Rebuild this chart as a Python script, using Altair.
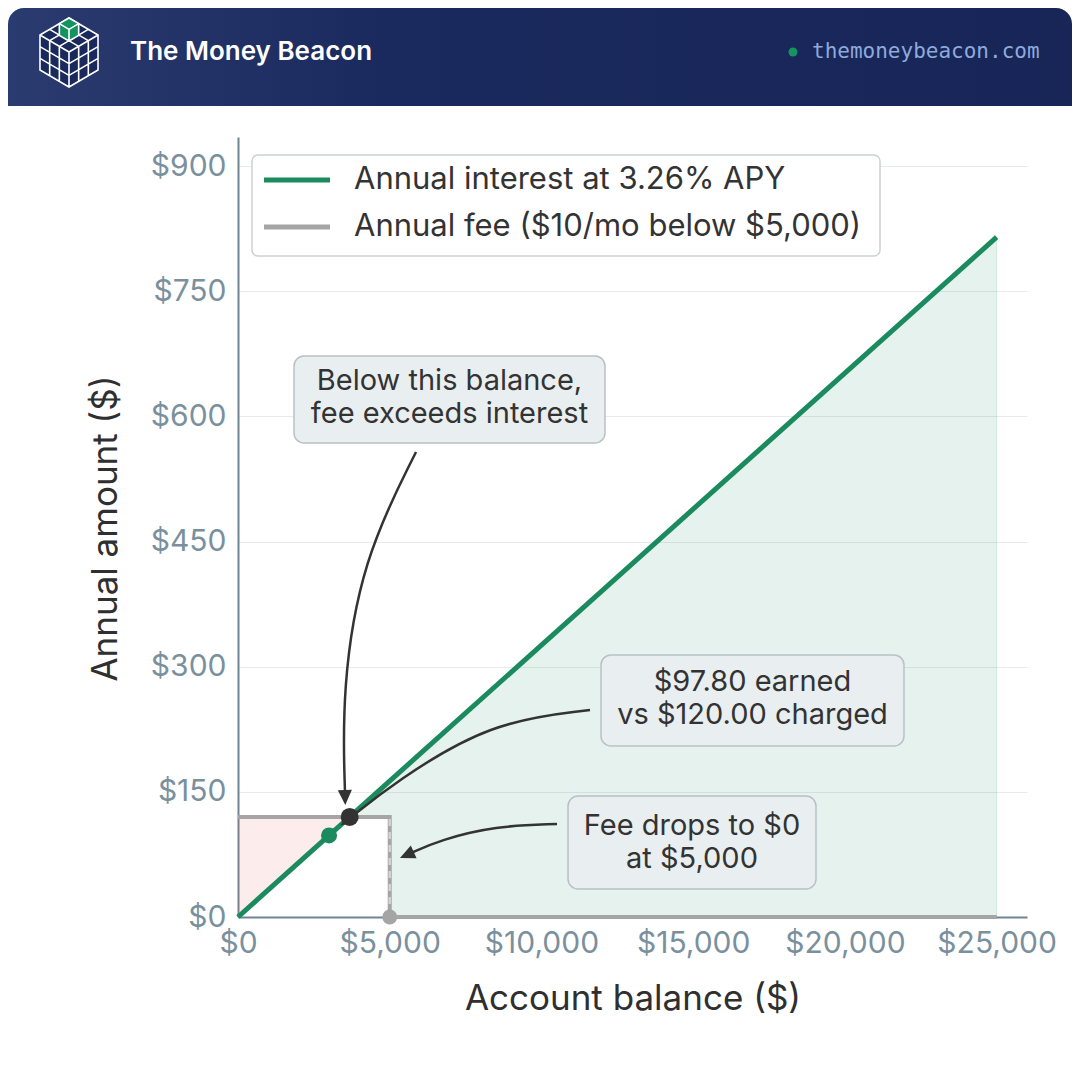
import altair as alt
import pandas as pd

# ---------------- data ----------------
balance_line = [0, 25000]
interest_line = [0, 815]

fee_x = [0, 5000, 5000, 25000]
fee_y = [120, 120, 0, 0]

pink_x = [0, 3681]
pink_top = [120, 120]
pink_bot = [0, 120]

# green "interest exceeds fee" region, two pieces either side of the $5,000 step
green_seg = ["a", "a", "b", "b"]
green_x = [3681, 5000, 5000, 25000]
green_top = [120, 163, 163, 815]
green_bot = [120, 120, 0, 0]

dot_x = [3000, 3681, 5000]
dot_y = [97.8, 120, 0]
dot_color = ["#1b8a5e", "#333333", "#a5a5a5"]
dot_size = [256, 324, 225]

x_ticks = [0, 5000, 10000, 15000, 20000, 25000]
y_ticks = [0, 150, 300, 450, 600, 750, 900]

box_x = [1845, 11962, 10875]
box_x2 = [12094, 21947, 19047]
box_y = [672.5, 314.1, 145.0]
box_y2 = [568.2, 205.0, 33.6]
box_tx = [6970, 16955, 14961]
box_ty = [642.5, 281.1, 109.1]
box_text = ["Below this balance,\nfee exceeds interest",
            "$97.80 earned\nvs $120.00 charged",
            "Fee drops to $0\nat $5,000"]

arrow_id = [1, 1, 1, 1, 2, 2, 2, 2, 3, 3, 3, 3]
arrow_idx = [0, 1, 2, 3] * 3
arrow_x = [5866, 4086, 3427, 3526,
           11600, 8304, 5174, 3691,
           10512, 8469, 6657, 5701]
arrow_y = [557.4, 427.9, 272.1, 148.6,
           248.1, 233.8, 161.8, 118.7,
           111.5, 109.1, 92.3, 76.7]
head_x = [3536, 3381, 5338]
head_y = [134.3, 109.7, 70.8]
head_angle = [358.3, 51.3, 65.9]

legend_labels = ["Annual interest at 3.26% APY", "Annual fee ($10/mo below $5,000)"]

GREEN = "#1b8a5e"
GRAY = "#a5a5a5"
DARK = "#333333"

xs = alt.Scale(domain=[0, 26000], nice=False, zero=False)
ys = alt.Scale(domain=[0, 935], nice=False, zero=False)

one = pd.DataFrame({"a": [0]})

label_expr = "'$' + format(datum.value, ',')"

x_axis = alt.Axis(values=x_ticks, labelExpr=label_expr, grid=False, labelFlush=False,
                  labelPadding=11, title="Account balance ($)", titleX=394.5, titleY=81,
                  titleBaseline="middle", titleAlign="center")
y_axis = alt.Axis(values=y_ticks, labelExpr=label_expr, grid=True, labelPadding=12,
                  title="Annual amount ($)", titleX=-133, titleY=391, titleAngle=270,
                  titleBaseline="middle", titleAlign="center")


def X(f):
    return alt.X(f, scale=xs, axis=x_axis)


def Y(f):
    return alt.Y(f, scale=ys, axis=y_axis)


# ---------------- plot layers ----------------
df_int = pd.DataFrame({"x": balance_line, "y": interest_line})
df_fee = pd.DataFrame({"x": fee_x, "y": fee_y, "i": range(4)})
df_pink = pd.DataFrame({"x": pink_x, "y": pink_top, "y2": pink_bot})
df_green = pd.DataFrame({"seg": green_seg, "x": green_x, "y": green_top, "y2": green_bot})
df_dots = pd.DataFrame({"x": dot_x, "y": dot_y, "c": dot_color, "s": dot_size})
df_box = pd.DataFrame({"x": box_x, "x2": box_x2, "y": box_y, "y2": box_y2,
                       "tx": box_tx, "ty": box_ty, "t": box_text})
df_arrow = pd.DataFrame({"id": arrow_id, "i": arrow_idx, "x": arrow_x, "y": arrow_y})
df_head = pd.DataFrame({"x": head_x, "y": head_y, "a": head_angle})

pink = alt.Chart(df_pink).mark_area(fill="#e04848", fillOpacity=0.1, strokeWidth=0).encode(
    x=X("x:Q"), y=Y("y:Q"), y2="y2:Q",
)
green = alt.Chart(df_green).mark_area(fill=GREEN, fillOpacity=0.11, strokeWidth=0).encode(
    x=X("x:Q"), y=Y("y:Q"), y2="y2:Q", detail="seg:N",
)
green_edge = alt.Chart(pd.DataFrame({"x": [25000], "y": [0], "y2": [815]})).mark_rule(
    color=GREEN, opacity=0.15, strokeWidth=1).encode(
    x=X("x:Q"), y=Y("y:Q"), y2="y2:Q",
)
fee = alt.Chart(df_fee).mark_line(color=GRAY, strokeWidth=4).encode(
    x=X("x:Q"), y=Y("y:Q"), order="i:O",
)
fee_dash = alt.Chart(pd.DataFrame({"x": [5000], "y": [0], "y2": [120]})).mark_rule(
    color="#d2d2d2", strokeWidth=2.5, strokeDash=[7, 6]).encode(
    x=X("x:Q"), y=Y("y:Q"), y2="y2:Q",
)
interest = alt.Chart(df_int).mark_line(color=GREEN, strokeWidth=5).encode(
    x=X("x:Q"), y=Y("y:Q"),
)
dots = alt.Chart(df_dots).mark_point(filled=True, opacity=1, strokeWidth=0).encode(
    x=X("x:Q"), y=Y("y:Q"),
    color=alt.Color("c:N", scale=None),
    size=alt.Size("s:Q", scale=None),
)
arrows = alt.Chart(df_arrow).mark_line(color=DARK, strokeWidth=2.5, interpolate="basis").encode(
    x=X("x:Q"), y=Y("y:Q"), detail="id:N", order="i:O",
)
heads = alt.Chart(df_head).mark_point(shape="M0,0 L-0.47,-1 L0.47,-1 Z", filled=True,
                                      color=DARK, opacity=1, size=900, strokeWidth=0).encode(
    x=X("x:Q"), y=Y("y:Q"), angle=alt.Angle("a:Q", scale=None),
)
boxes = alt.Chart(df_box).mark_rect(fill="#e9eef0", stroke="#b9c1c5", strokeWidth=1.5,
                                    cornerRadius=10).encode(
    x=X("x:Q"), x2="x2:Q", y=Y("y:Q"), y2="y2:Q",
)
box_texts = alt.Chart(df_box).mark_text(font="Inter", fontSize=29, color=DARK,
                                        lineBreak="\n", lineHeight=33, align="center",
                                        baseline="middle").encode(
    x=X("tx:Q"), y=Y("ty:Q"), text="t:N",
)

# ---------------- legend (decorative) ----------------
leg_box = alt.Chart(one).mark_rect(fill="white", stroke="#cdd1d4", strokeWidth=1.5,
                                   cornerRadius=6).encode(
    x=alt.value(14), x2=alt.value(642), y=alt.value(18), y2=alt.value(119))
leg_l1 = alt.Chart(one).mark_rule(color=GREEN, strokeWidth=5).encode(
    x=alt.value(26), x2=alt.value(92), y=alt.value(43))
leg_l2 = alt.Chart(one).mark_rule(color=GRAY, strokeWidth=5).encode(
    x=alt.value(26), x2=alt.value(92), y=alt.value(90))
leg_t1 = alt.Chart(one).mark_text(text=legend_labels[0], font="Inter", fontSize=31,
                                  color=DARK, align="left", baseline="middle").encode(
    x=alt.value(116), y=alt.value(43))
leg_t2 = alt.Chart(one).mark_text(text=legend_labels[1], font="Inter", fontSize=31,
                                  color=DARK, align="left", baseline="middle").encode(
    x=alt.value(116), y=alt.value(90))

# ---------------- header (decorative) ----------------
header_bg = alt.Chart(one).mark_rect(
    fill=alt.LinearGradient(gradient="linear",
                            stops=[alt.GradientStop(color="#2a3b70", offset=0),
                                   alt.GradientStop(color="#1b2a5e", offset=0.35),
                                   alt.GradientStop(color="#172557", offset=1)],
                            x1=0, x2=1, y1=0, y2=0),
    cornerRadiusTopLeft=16, cornerRadiusTopRight=16).encode(
    x=alt.value(-230), x2=alt.value(834), y=alt.value(-129), y2=alt.value(-31))

S = 35.0
T = (0, -34); L = (-29, -17); R = (29, -17); C = (0, 0)
BL = (-29, 18); B = (0, 35); BR = (29, 18)


def add(p, q, k=1.0):
    return (p[0] + k * q[0], p[1] + k * q[1])


def sub(p, q):
    return (p[0] - q[0], p[1] - q[1])


def fmt(p):
    return f"{p[0] / S:.3f},{p[1] / S:.3f}"


def seg(a, b):
    return f"M{fmt(a)} L{fmt(b)} "


hex_path = f"M{fmt(T)} L{fmt(R)} L{fmt(BR)} L{fmt(B)} L{fmt(BL)} L{fmt(L)} Z"
lines = hex_path + " " + seg(L, C) + seg(C, R) + seg(C, B)
for k in (1, 2):
    f = k / 3.0
    s1 = add(T, sub(R, T), f); lines += seg(s1, add(s1, sub(L, T)))
    s2 = add(T, sub(L, T), f); lines += seg(s2, add(s2, sub(R, T)))
    v1 = add(L, sub(C, L), f); lines += seg(v1, add(v1, (0, 35)))
    lines += seg(add(L, (0, 35 * f)), add(C, (0, 35 * f)))
    v2 = add(C, sub(R, C), f); lines += seg(v2, add(v2, (0, 35)))
    lines += seg(add(C, (0, 35 * f)), add(R, (0, 35 * f)))

ga = add(T, sub(L, T), 1 / 3)
gb = add(T, sub(R, T), 1 / 3)
gc = add(ga, sub(R, T), 1 / 3)
drop = (0, 35 / 3)
green_path = (f"M{fmt(T)} L{fmt(gb)} L{fmt(add(gb, drop))} L{fmt(add(gc, drop))} "
              f"L{fmt(add(ga, drop))} L{fmt(ga)} Z")
green_edges = seg(ga, gc) + seg(gc, gb) + seg(gc, add(gc, drop)) + green_path

LOGO_X, LOGO_Y, LOGO_SIZE = -169, -85, (2 * S) ** 2

logo_fill = alt.Chart(one).mark_point(shape=hex_path, filled=True, color="#1a295c",
                                      opacity=1, size=LOGO_SIZE, strokeWidth=0).encode(
    x=alt.value(LOGO_X), y=alt.value(LOGO_Y))
logo_lines = alt.Chart(one).mark_point(shape=lines, filled=False, color="white",
                                       opacity=1, size=LOGO_SIZE, strokeWidth=1.6).encode(
    x=alt.value(LOGO_X), y=alt.value(LOGO_Y))
logo_green = alt.Chart(one).mark_point(shape=green_path, filled=True, color="#14925f",
                                       opacity=1, size=LOGO_SIZE, strokeWidth=0).encode(
    x=alt.value(LOGO_X), y=alt.value(LOGO_Y))
logo_gedges = alt.Chart(one).mark_point(shape=green_edges, filled=False, color="white",
                                        opacity=1, size=LOGO_SIZE, strokeWidth=1.6).encode(
    x=alt.value(LOGO_X), y=alt.value(LOGO_Y))

brand = alt.Chart(one).mark_text(text="The Money Beacon", font="Inter", fontSize=26,
                                 fontWeight=600, color="white", align="left",
                                 baseline="middle").encode(
    x=alt.value(-108), y=alt.value(-85))
url_dot = alt.Chart(one).mark_point(shape="circle", filled=True, color="#16935f",
                                    opacity=1, size=81, strokeWidth=0).encode(
    x=alt.value(555), y=alt.value(-85))
url = alt.Chart(one).mark_text(text="themoneybeacon.com", font="DejaVu Sans Mono",
                               fontSize=21, color="#8eaadc", align="left",
                               baseline="middle").encode(
    x=alt.value(574), y=alt.value(-85))

chart = alt.layer(
    pink, green, green_edge, fee, fee_dash, interest, arrows, dots, heads, boxes, box_texts,
    leg_box, leg_l1, leg_l2, leg_t1, leg_t2,
    header_bg, logo_fill, logo_lines, logo_green, logo_gedges, brand, url_dot, url,
).properties(
    width=789, height=780,
    autosize=alt.AutoSizeParams(type="none"),
    padding={"left": 230, "top": 129, "right": 45, "bottom": 155},
).configure(
    background="white", font="Inter",
).configure_view(
    strokeWidth=0,
).configure_axis(
    labelFont="Inter", labelFontSize=30, labelColor="#7a909d",
    titleFont="Inter", titleFontSize=35, titleColor="#2f2f2f", titleFontWeight="normal",
    domainColor="#6f8593", domainWidth=2, ticks=False,
    gridColor="#e8ebec", gridWidth=1.2,
)

chart.save("out.html", embed_options={"renderer": "svg", "actions": False})
